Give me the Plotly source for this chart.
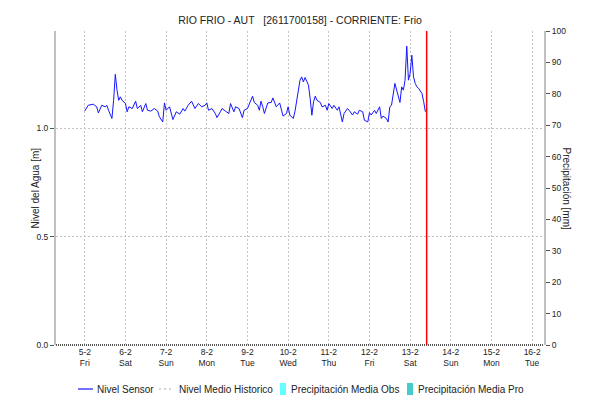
import pandas as pd
import plotly.graph_objects as go

# Sensor water level, hours counted from 5-2 00:00
hours = [0, 2, 5, 7, 8, 10, 12, 13, 14, 16, 17, 18, 19, 20, 21, 22, 24, 25, 26, 28,
         30, 31, 33, 34, 36, 37, 39, 41, 43, 44, 46, 47, 48, 50, 52, 54, 56, 58, 59, 61,
         63, 65, 67, 69, 71, 72, 73, 75, 77, 78, 80, 81, 83, 85, 86, 88, 89, 91, 93, 94,
         96, 98, 99, 100, 102, 103, 104, 105, 106, 108, 110, 111, 113, 115, 116, 117, 119, 120, 121, 123,
         124, 125, 126, 127, 128, 129, 130, 132, 133, 134, 135, 136, 137, 139, 140, 142, 143, 144, 146, 147,
         149, 150, 152, 153, 155, 156, 158, 159, 161, 162, 164, 165, 167, 168, 169, 171, 172, 174, 175, 176,
         178, 179, 180, 181, 183, 184, 185, 186, 187, 188, 189, 190, 191, 192, 193, 194, 195, 196, 197, 198,
         199, 200, 201]
nivel = [1.081, 1.107, 1.112, 1.100, 1.072, 1.107, 1.100, 1.107, 1.084, 1.046, 1.130, 1.250, 1.177, 1.130, 1.146, 1.130, 1.115, 1.077, 1.100, 1.092,
         1.126, 1.092, 1.107, 1.077, 1.115, 1.084, 1.080, 1.092, 1.080, 1.054, 1.030, 1.118, 1.084, 1.100, 1.041, 1.077, 1.066, 1.092, 1.080, 1.107,
         1.126, 1.092, 1.115, 1.100, 1.107, 1.118, 1.084, 1.092, 1.069, 1.050, 1.077, 1.092, 1.080, 1.069, 1.115, 1.077, 1.100, 1.092, 1.050, 1.084,
         1.092, 1.130, 1.149, 1.120, 1.107, 1.084, 1.126, 1.100, 1.069, 1.118, 1.120, 1.141, 1.100, 1.118, 1.084, 1.057, 1.069, 1.100, 1.062, 1.046,
         1.077, 1.120, 1.177, 1.223, 1.238, 1.215, 1.235, 1.200, 1.138, 1.061, 1.123, 1.149, 1.130, 1.120, 1.100, 1.107, 1.084, 1.115, 1.092, 1.107,
         1.084, 1.100, 1.030, 1.069, 1.092, 1.084, 1.062, 1.077, 1.066, 1.084, 1.077, 1.038, 1.030, 1.073, 1.062, 1.084, 1.069, 1.100, 1.046, 1.057,
         1.046, 1.030, 1.100, 1.107, 1.208, 1.177, 1.154, 1.120, 1.192, 1.177, 1.223, 1.380, 1.223, 1.254, 1.338, 1.238, 1.208, 1.192, 1.185, 1.170,
         1.161, 1.123, 1.077]

start = pd.Timestamp("2021-02-05 00:00")
times = [start + pd.Timedelta(hours=h) for h in hours]

tick_days = pd.date_range("2021-02-05", "2021-02-16", freq="D")
day_names = {0: "Mon", 1: "Tue", 2: "Wed", 3: "Thu", 4: "Fri", 5: "Sat", 6: "Sun"}
tick_text = [f"{d.day}-{d.month}<br>{day_names[d.weekday()]}" for d in tick_days]

now_time = "2021-02-13 09:45"
x_range = ["2021-02-04 07:00", "2021-02-16 07:00"]

level_ticks = [0.0, 0.5, 1.0]
level_tick_text = ["0.0", "0.5", "1.0"]

legend_items = ["Nivel Sensor", "Nivel Medio Historico",
                "Precipitación Media Obs", "Precipitación Media Pro"]

W, H = 590, 404
L, R, T, B = 56, 46, 31, 59
FONT = "Arial, Liberation Sans, sans-serif"
TXT = "#222222"
GRID = "#c4c4c4"


def px(x):
    return (x - L) / (W - L - R)


def py(y):
    return (H - B - y) / (H - T - B)


fig = go.Figure()
fig.add_trace(go.Scatter(x=times, y=nivel, mode="lines",
                         line=dict(color="#1414ff", width=1),
                         name=legend_items[0], showlegend=False))
# empty precipitation axis trace
fig.add_trace(go.Scatter(x=[times[0]], y=[None], yaxis="y2", showlegend=False,
                         hoverinfo="skip"))

shapes = [
    # bottom axis drawn dotted
    dict(type="line", xref="paper", yref="paper", x0=0, x1=1, y0=0, y1=0,
         line=dict(color="#555555", width=2, dash="1px,1px")),
    # current-time marker
    dict(type="line", xref="x", yref="paper", x0=now_time, x1=now_time, y0=0, y1=1,
         line=dict(color="#ff0000", width=1.5)),
    # legend symbols
    dict(type="line", xref="paper", yref="paper", x0=px(78), x1=px(93), y0=py(389), y1=py(389),
         line=dict(color="#1414ff", width=1.2)),
    dict(type="line", xref="paper", yref="paper", x0=px(159), x1=px(174), y0=py(389), y1=py(389),
         line=dict(color="#aaaaaa", width=1, dash="2px,3px")),
    dict(type="rect", xref="paper", yref="paper", x0=px(280), x1=px(286), y0=py(383), y1=py(395),
         line=dict(width=0), fillcolor="#66ffff"),
    dict(type="rect", xref="paper", yref="paper", x0=px(407), x1=px(413), y0=py(383), y1=py(395),
         line=dict(width=0), fillcolor="#44cccc"),
]

annotations = [
    dict(text="Nivel del Agua [m]", xref="paper", yref="paper", x=px(27), y=py(188),
         textangle=-90, showarrow=False, font=dict(size=10, color=TXT, family=FONT)),
    dict(text="Precipitación [mm]", xref="paper", yref="paper", x=px(574), y=py(188),
         textangle=90, showarrow=False, font=dict(size=10, color=TXT, family=FONT)),
]
for txt, x0 in zip(legend_items, [95, 177, 289, 416]):
    annotations.append(dict(text=txt, xref="paper", yref="paper", x=px(x0), y=py(389),
                            xanchor="left", yanchor="middle", showarrow=False,
                            font=dict(size=10, color=TXT, family=FONT)))

fig.update_layout(
    width=W, height=H,
    margin=dict(l=L, r=R, t=T, b=B),
    paper_bgcolor="white", plot_bgcolor="white",
    font=dict(family=FONT, size=9, color=TXT),
    title=dict(text="RIO FRIO - AUT\u00a0\u00a0\u00a0[2611700158] - CORRIENTE: Frio",
               x=0.5, xref="paper", y=1 - 20 / H, yanchor="middle",
               font=dict(size=10.5, color=TXT, family=FONT)),
    showlegend=False,
    xaxis=dict(range=x_range, tickvals=tick_days, ticktext=tick_text,
               showgrid=True, gridcolor=GRID, griddash="2px,2px", gridwidth=1,
               showline=False, zeroline=False, ticks="",
               tickfont=dict(size=8.5, color=TXT, family=FONT)),
    yaxis=dict(range=[0, 1.45], tickvals=level_ticks, ticktext=level_tick_text,
               showgrid=True, gridcolor=GRID, griddash="2px,2px", gridwidth=1,
               showline=True, linecolor="#c0c0c0", linewidth=2,
               ticks="outside", ticklen=4, tickcolor="#555555", zeroline=False,
               tickfont=dict(size=8.5, color=TXT, family=FONT)),
    yaxis2=dict(range=[0, 100], dtick=10, overlaying="y", side="right",
                showgrid=False, zeroline=False,
                showline=True, linecolor="#c0c0c0", linewidth=2,
                ticks="outside", ticklen=4, tickcolor="#555555",
                tickfont=dict(size=8.5, color=TXT, family=FONT)),
    shapes=shapes,
    annotations=annotations,
)

fig.write_html("out.html")
